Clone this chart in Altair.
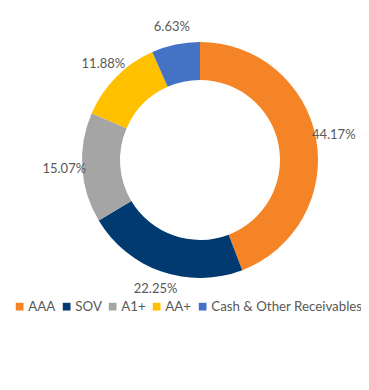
import altair as alt
import pandas as pd

categories = ["AAA", "SOV", "A1+", "AA+", "Cash & Other Receivables"]
values = [44.17, 22.25, 15.07, 11.88, 6.63]
labels = ["44.17%", "22.25%", "15.07%", "11.88%", "6.63%"]
colors = ["#F58426", "#003A70", "#A5A5A5", "#FFC000", "#4472C4"]

df = pd.DataFrame({"cat": categories, "val": values, "label": labels,
                   "order": list(range(len(categories)))})

FONT = "Lato"
cx, cy = 192, 152

base = alt.Chart(df).encode(
    theta=alt.Theta("val:Q", stack=True),
    order=alt.Order("order:Q"),
)

arcs = base.mark_arc(innerRadius=80, outerRadius=118, strokeWidth=0).encode(
    x=alt.value(cx), y=alt.value(cy),
    color=alt.Color("cat:N", sort=categories,
                    scale=alt.Scale(domain=categories, range=colors),
                    legend=alt.Legend(orient="none", legendX=5, legendY=292,
                                      direction="horizontal", columns=5, title=None,
                                      symbolType="square", symbolSize=60,
                                      symbolStrokeWidth=0,
                                      labelFont=FONT, labelFontSize=13.3,
                                      labelColor="#595959", labelOffset=2,
                                      columnPadding=4)),
)

text = base.mark_text(radius=136, font=FONT, fontSize=13, color="#595959").encode(
    x=alt.value(cx), y=alt.value(cy),
    text="label:N",
)

chart = alt.layer(arcs, text).properties(
    width=353, height=374, background="white", padding=0,
    autosize=alt.AutoSizeParams(type="none")
).configure_view(stroke=None)

chart.save("out.html", embed_options={"renderer": "svg", "actions": False})
